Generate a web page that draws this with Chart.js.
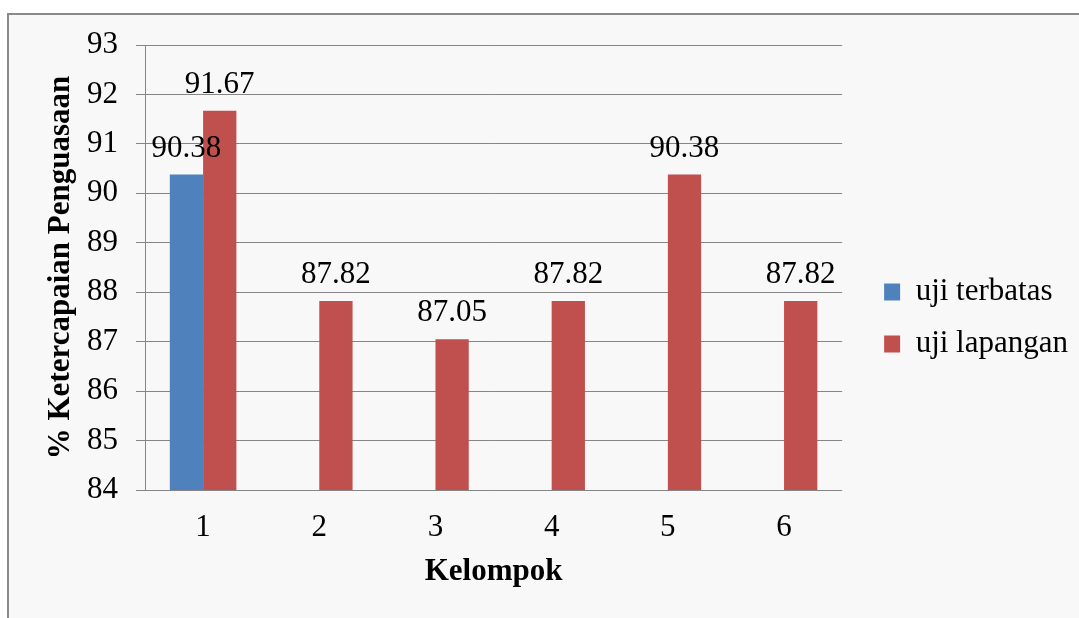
<!DOCTYPE html>
<html>
<head>
<meta charset="utf-8">
<script src="https://cdn.jsdelivr.net/npm/chart.js@4/dist/chart.umd.min.js"></script>
<style>
  html, body { margin: 0; padding: 0; background: #ffffff; overflow: hidden; }
  #frame {
    position: absolute; left: 7px; top: 13px; width: 1100px; height: 700px;
    background: #f8f8f8; border: 2px solid #8a8a8a;
  }
  #chart { position: absolute; left: 0; top: 0; }
</style>
</head>
<body>
<div id="frame"></div>
<canvas id="chart" width="1079" height="618"></canvas>
<script>
// Kelompok 1..6
const categories = ['1', '2', '3', '4', '5', '6'];
// % ketercapaian penguasaan per kelompok
const ujiTerbatas = [90.38, null, null, null, null, null];
const ujiLapangan = [91.67, 87.82, 87.05, 87.82, 90.38, 87.82];
const yTicks = [84, 85, 86, 87, 88, 89, 90, 91, 92, 93];

const serif = '"Liberation Serif", "Times New Roman", serif';
Chart.defaults.font.family = serif;
Chart.defaults.font.size = 31;
Chart.defaults.color = '#000000';

const gridGray = '#868686';

// writes each bar's value just above it
const valueLabels = {
  id: 'valueLabels',
  afterDatasetsDraw(chart) {
    const ctx = chart.ctx;
    ctx.save();
    ctx.font = '31px ' + serif;
    ctx.fillStyle = '#000000';
    ctx.textAlign = 'center';
    ctx.textBaseline = 'alphabetic';
    chart.data.datasets.forEach((ds, i) => {
      const meta = chart.getDatasetMeta(i);
      meta.data.forEach((bar, j) => {
        const v = ds.data[j];
        if (v === null || v === undefined) return;
        ctx.fillText(v.toFixed(2), bar.x, bar.y - 18);
      });
    });
    ctx.restore();
  }
};

// leaves a little breathing room between the plot and the legend
const legendGap = {
  id: 'legendGap',
  afterLayout(chart) {
    const lg = chart.legend;
    if (!lg) return;
    lg.left += 21;
    lg.right += 21;
  }
};

new Chart(document.getElementById('chart'), {
  type: 'bar',
  data: {
    labels: categories,
    datasets: [
      { label: 'uji terbatas', data: ujiTerbatas, backgroundColor: '#4f81bd', borderWidth: 0 },
      { label: 'uji lapangan', data: ujiLapangan, backgroundColor: '#c0504d', borderWidth: 0 }
    ]
  },
  options: {
    responsive: false,
    animation: false,
    events: [],
    datasets: { bar: { categoryPercentage: 0.573, barPercentage: 1.0 } },
    layout: { padding: { top: 45, right: 22, bottom: 27, left: 0 } },
    plugins: {
      tooltip: { enabled: false },
      legend: {
        position: 'right',
        labels: {
          boxWidth: 16,
          boxHeight: 17,
          padding: 21,
          font: { size: 31, family: serif },
          color: '#000000'
        }
      }
    },
    scales: {
      x: {
        grid: { display: false, drawTicks: false },
        border: { display: false },
        ticks: { padding: 19, font: { size: 31 } },
        title: {
          display: true,
          text: 'Kelompok',
          font: { size: 31, weight: 'bold', family: serif },
          padding: { top: 0, bottom: 0 }
        },
        afterFit(scale) { scale.height = 101; }
      },
      y: {
        min: 84,
        max: 93,
        afterBuildTicks(scale) { scale.ticks = yTicks.map(v => ({ value: v })); },
        grid: { color: gridGray, lineWidth: 1, tickLength: 9, drawTicks: true },
        border: { display: true, color: gridGray, width: 1 },
        ticks: { padding: 18, font: { size: 31 } },
        title: {
          display: true,
          text: '% Ketercapaian Penguasaan',
          font: { size: 31, weight: 'bold', family: serif },
          padding: { top: 42, bottom: 0 }
        },
        afterFit(scale) { scale.width = 145; }
      }
    }
  },
  plugins: [valueLabels, legendGap]
});
</script>
</body>
</html>
